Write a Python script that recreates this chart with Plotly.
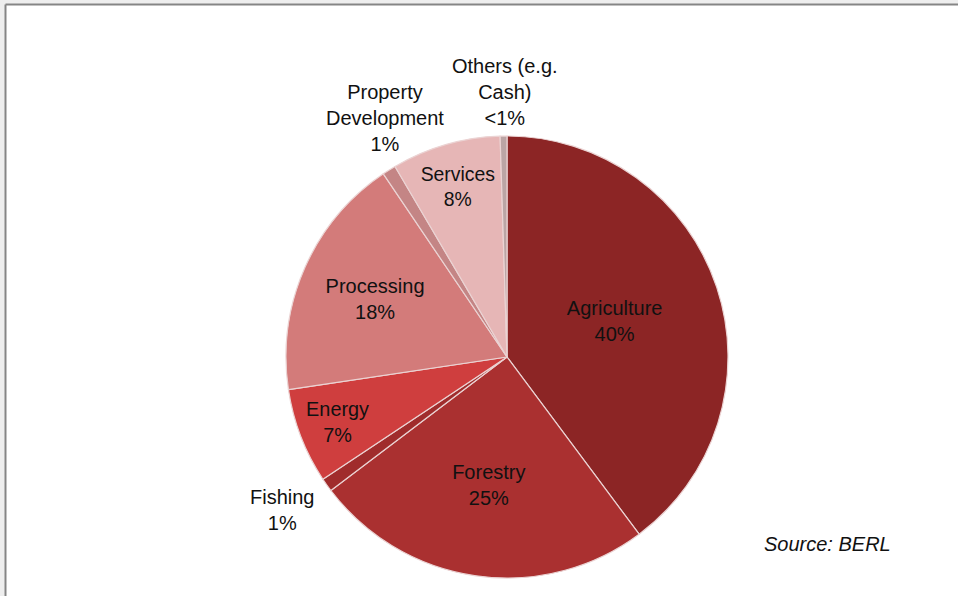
import plotly.graph_objects as go

categories = ["Agriculture", "Forestry", "Fishing", "Energy", "Processing",
              "Property<br>Development", "Services", "Others (e.g.<br>Cash)"]
values = [40, 25, 1, 7, 18, 1, 8, 0.5]
pct_labels = ["40%", "25%", "1%", "7%", "18%", "1%", "8%", "<1%"]
colors = ["#8C2525", "#AA3030", "#A02C2C", "#CF3E3E", "#D37B7A",
          "#C48585", "#E6B6B6", "#BBA5A5"]
outside = [False, False, True, False, False, True, False, True]
# label anchor (pixel) positions for the labels drawn outside the pie
outside_pos = {"Fishing": (282, 510),
               "Property<br>Development": (385, 118),
               "Others (e.g.<br>Cash)": (505, 92)}

W, H = 958, 596
cx, cy, R = 507, 357, 221
FONT = "Liberation Sans, Arial, sans-serif"

texts = [f"{c}<br>{p}" if not o else "" for c, p, o in zip(categories, pct_labels, outside)]

fig = go.Figure(go.Pie(
    labels=categories,
    values=values,
    text=texts,
    textinfo="text",
    textposition="inside",
    insidetextorientation="horizontal",
    sort=False,
    direction="clockwise",
    rotation=0,
    marker=dict(colors=colors, line=dict(color="#EBD3D3", width=1.2)),
    textfont=dict(family=FONT, size=20, color="#111111"),
    automargin=False,
    hoverinfo="label+percent",
    showlegend=False,
    domain=dict(x=[(cx - R) / W, (cx + R) / W],
                y=[(H - cy - R) / H, (H - cy + R) / H]),
))

annotations = []
for c, p, o in zip(categories, pct_labels, outside):
    if not o:
        continue
    px, py = outside_pos[c]
    annotations.append(dict(text=f"{c}<br>{p}", xref="paper", yref="paper",
                            x=px / W, y=(H - py) / H, xanchor="center", yanchor="middle",
                            showarrow=False, align="center",
                            font=dict(family=FONT, size=20, color="#111111")))

annotations.append(dict(text="<i>Source: BERL</i>", xref="paper", yref="paper",
                        x=893 / W, y=(H - 544) / H, xanchor="right", yanchor="middle",
                        showarrow=False, font=dict(family=FONT, size=20, color="#111111")))

fig.update_layout(
    width=W, height=H,
    margin=dict(l=0, r=0, t=0, b=0),
    paper_bgcolor="white",
    plot_bgcolor="white",
    shapes=[
        dict(type="rect", xref="paper", yref="paper", x0=0, x1=1, y0=0, y1=1,
             fillcolor="#EEEEEE", line=dict(width=0), layer="below"),
        dict(type="rect", xref="paper", yref="paper", x0=5.5 / W, x1=1, y0=0,
             y1=(H - 4.5) / H, fillcolor="white", line=dict(width=0), layer="below"),
        dict(type="line", xref="paper", yref="paper", x0=5.5 / W, x1=1,
             y0=(H - 4.5) / H, y1=(H - 4.5) / H, line=dict(color="#858585", width=2), layer="below"),
        dict(type="line", xref="paper", yref="paper", x0=5.5 / W, x1=5.5 / W,
             y0=0, y1=(H - 4.5) / H, line=dict(color="#858585", width=2), layer="below"),
    ],
    annotations=annotations,
)

fig.write_html("out.html", config={"displayModeBar": False},
               post_script="document.body.style.margin='0';document.body.style.overflow='hidden';")
